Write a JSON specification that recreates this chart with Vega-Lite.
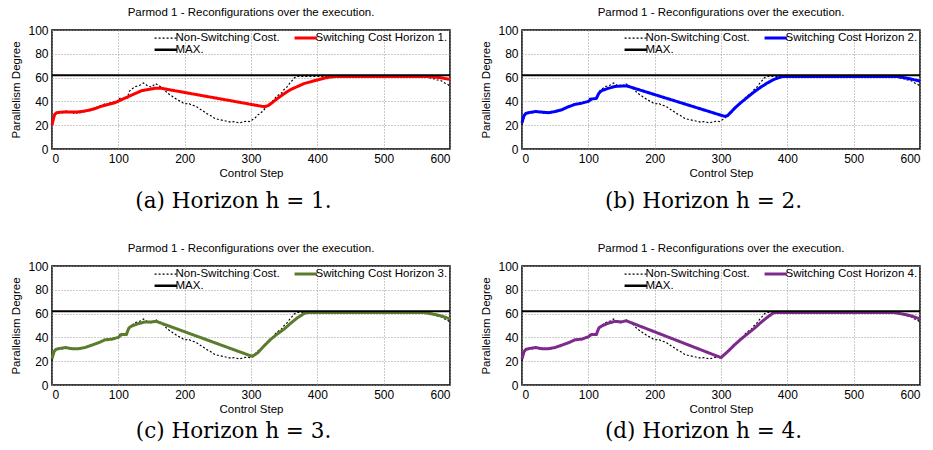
{
  "$schema": "https://vega.github.io/schema/vega-lite/v6.json",
  "background": "white",
  "padding": {"left": 10, "top": 5, "right": 3, "bottom": 3},
  "datasets": {
    "ns": [
      {"step":0,"value":20},{"step":2,"value":25},{"step":4,"value":29},{"step":6,"value":30.5},{"step":9,"value":30},{"step":12,"value":31},{"step":15,"value":30},{"step":18,"value":31},{"step":21,"value":32},{"step":24,"value":31},{"step":27,"value":30.5},{"step":30,"value":31},{"step":33,"value":30},{"step":36,"value":31},{"step":39,"value":29.5},{"step":42,"value":30.5},{"step":45,"value":30.5},{"step":48,"value":31.5},{"step":51,"value":31},{"step":54,"value":32.5},{"step":57,"value":32},{"step":60,"value":33.5},{"step":63,"value":34},{"step":66,"value":35.5},{"step":69,"value":35},{"step":72,"value":36.5},{"step":75,"value":36},{"step":78,"value":37.5},{"step":81,"value":38.5},{"step":84,"value":37.5},{"step":87,"value":39},{"step":90,"value":38.5},{"step":93,"value":39.5},{"step":96,"value":38.5},{"step":99,"value":40},{"step":102,"value":42.5},{"step":105,"value":43},{"step":108,"value":42},{"step":111,"value":42.5},{"step":114,"value":43},{"step":116,"value":48},{"step":119,"value":50},{"step":122,"value":51},{"step":126,"value":52.5},{"step":130,"value":53},{"step":134,"value":54},{"step":138,"value":55.5},{"step":141,"value":54.5},{"step":144,"value":53},{"step":147,"value":52.5},{"step":150,"value":52},{"step":153,"value":53.5},{"step":156,"value":55},{"step":159,"value":54},{"step":162,"value":53},{"step":166,"value":51.5},{"step":170,"value":49.5},{"step":174,"value":47},{"step":178,"value":45.5},{"step":182,"value":44},{"step":186,"value":42.5},{"step":190,"value":41},{"step":194,"value":40},{"step":198,"value":38.5},{"step":202,"value":38},{"step":206,"value":38.5},{"step":210,"value":37},{"step":214,"value":36.5},{"step":218,"value":35.5},{"step":222,"value":34},{"step":226,"value":32.5},{"step":230,"value":31},{"step":234,"value":29.5},{"step":238,"value":28.5},{"step":242,"value":27},{"step":246,"value":25.5},{"step":250,"value":25},{"step":254,"value":24.5},{"step":258,"value":24},{"step":262,"value":23.5},{"step":266,"value":23},{"step":270,"value":22.5},{"step":274,"value":23},{"step":278,"value":22.5},{"step":282,"value":22},{"step":286,"value":22.5},{"step":290,"value":23},{"step":294,"value":23.5},{"step":298,"value":23},{"step":302,"value":24.5},{"step":306,"value":26},{"step":310,"value":28.5},{"step":314,"value":30},{"step":318,"value":32},{"step":322,"value":34.5},{"step":326,"value":37},{"step":330,"value":39},{"step":334,"value":41},{"step":338,"value":44},{"step":342,"value":45.5},{"step":346,"value":47},{"step":350,"value":50},{"step":354,"value":52},{"step":358,"value":55},{"step":362,"value":57.5},{"step":366,"value":60},{"step":370,"value":61},{"step":420,"value":61},{"step":500,"value":61},{"step":565,"value":61},{"step":568,"value":60},{"step":572,"value":59.5},{"step":576,"value":59},{"step":580,"value":58},{"step":584,"value":58},{"step":588,"value":57},{"step":592,"value":55.5},{"step":596,"value":54.5},{"step":600,"value":53}
    ],
    "mx": [{"step":0,"value":62},{"step":600,"value":62}],
    "sw": [
      {"h":1,"step":0,"value":20},{"h":1,"step":2,"value":25},{"h":1,"step":4,"value":29},{"h":1,"step":7,"value":30.5},{"h":1,"step":15,"value":31},{"h":1,"step":25,"value":31},{"h":1,"step":35,"value":31},{"h":1,"step":45,"value":31.5},{"h":1,"step":55,"value":32.5},{"h":1,"step":65,"value":34},{"h":1,"step":75,"value":36},{"h":1,"step":85,"value":37.5},{"h":1,"step":95,"value":39},{"h":1,"step":105,"value":41.5},{"h":1,"step":115,"value":44},{"h":1,"step":125,"value":46.5},{"h":1,"step":135,"value":49},{"h":1,"step":145,"value":50},{"h":1,"step":155,"value":51},{"h":1,"step":165,"value":51},{"h":1,"step":320,"value":35.5},{"h":1,"step":326,"value":36.5},{"h":1,"step":332,"value":39},{"h":1,"step":340,"value":42.5},{"h":1,"step":350,"value":46.5},{"h":1,"step":360,"value":50},{"h":1,"step":370,"value":52.5},{"h":1,"step":380,"value":55},{"h":1,"step":390,"value":56.5},{"h":1,"step":400,"value":58},{"h":1,"step":410,"value":59.5},{"h":1,"step":420,"value":60.5},{"h":1,"step":430,"value":61},{"h":1,"step":565,"value":61},{"h":1,"step":575,"value":60.5},{"h":1,"step":585,"value":60},{"h":1,"step":595,"value":59},{"h":1,"step":600,"value":58.5},
      {"h":2,"step":0,"value":22},{"h":2,"step":3,"value":28},{"h":2,"step":6,"value":30},{"h":2,"step":10,"value":30.5},{"h":2,"step":20,"value":31.5},{"h":2,"step":30,"value":31},{"h":2,"step":40,"value":30.5},{"h":2,"step":50,"value":31.5},{"h":2,"step":60,"value":33},{"h":2,"step":70,"value":35.5},{"h":2,"step":80,"value":37.5},{"h":2,"step":90,"value":38.5},{"h":2,"step":100,"value":40},{"h":2,"step":105,"value":42},{"h":2,"step":112,"value":42.5},{"h":2,"step":116,"value":47},{"h":2,"step":120,"value":49},{"h":2,"step":130,"value":51},{"h":2,"step":140,"value":52.5},{"h":2,"step":150,"value":53},{"h":2,"step":158,"value":53},{"h":2,"step":305,"value":27.5},{"h":2,"step":310,"value":28},{"h":2,"step":315,"value":31},{"h":2,"step":320,"value":34},{"h":2,"step":330,"value":39},{"h":2,"step":340,"value":43.5},{"h":2,"step":350,"value":48},{"h":2,"step":360,"value":52},{"h":2,"step":370,"value":55.5},{"h":2,"step":380,"value":58.5},{"h":2,"step":390,"value":60.5},{"h":2,"step":395,"value":61},{"h":2,"step":565,"value":61},{"h":2,"step":575,"value":60},{"h":2,"step":585,"value":59},{"h":2,"step":600,"value":57},
      {"h":3,"step":0,"value":22},{"h":3,"step":3,"value":28},{"h":3,"step":6,"value":30},{"h":3,"step":10,"value":30.5},{"h":3,"step":20,"value":31.5},{"h":3,"step":30,"value":30.5},{"h":3,"step":40,"value":30.5},{"h":3,"step":50,"value":31.5},{"h":3,"step":60,"value":33.5},{"h":3,"step":70,"value":35.5},{"h":3,"step":80,"value":38},{"h":3,"step":90,"value":38.5},{"h":3,"step":100,"value":40},{"h":3,"step":105,"value":42.5},{"h":3,"step":112,"value":42.5},{"h":3,"step":116,"value":48},{"h":3,"step":120,"value":49.5},{"h":3,"step":130,"value":51.5},{"h":3,"step":140,"value":53},{"h":3,"step":150,"value":53},{"h":3,"step":157,"value":53.5},{"h":3,"step":302,"value":24},{"h":3,"step":310,"value":27},{"h":3,"step":320,"value":33},{"h":3,"step":330,"value":38.5},{"h":3,"step":340,"value":43},{"h":3,"step":350,"value":47},{"h":3,"step":360,"value":52},{"h":3,"step":370,"value":56.5},{"h":3,"step":380,"value":60},{"h":3,"step":386,"value":61},{"h":3,"step":560,"value":61},{"h":3,"step":570,"value":60},{"h":3,"step":580,"value":59},{"h":3,"step":590,"value":57.5},{"h":3,"step":600,"value":55.5},
      {"h":4,"step":0,"value":22},{"h":4,"step":3,"value":28},{"h":4,"step":6,"value":30},{"h":4,"step":10,"value":30.5},{"h":4,"step":20,"value":31.5},{"h":4,"step":30,"value":30.5},{"h":4,"step":40,"value":30.5},{"h":4,"step":50,"value":31.5},{"h":4,"step":60,"value":33.5},{"h":4,"step":70,"value":35.5},{"h":4,"step":80,"value":38},{"h":4,"step":90,"value":38.5},{"h":4,"step":100,"value":40.5},{"h":4,"step":105,"value":42.5},{"h":4,"step":112,"value":42.5},{"h":4,"step":116,"value":48},{"h":4,"step":120,"value":49.5},{"h":4,"step":130,"value":52},{"h":4,"step":140,"value":53.5},{"h":4,"step":150,"value":53},{"h":4,"step":157,"value":54},{"h":4,"step":300,"value":23},{"h":4,"step":310,"value":28},{"h":4,"step":320,"value":33.5},{"h":4,"step":330,"value":38.5},{"h":4,"step":340,"value":43},{"h":4,"step":350,"value":47.5},{"h":4,"step":360,"value":52.5},{"h":4,"step":370,"value":57},{"h":4,"step":380,"value":61},{"h":4,"step":560,"value":61},{"h":4,"step":570,"value":60},{"h":4,"step":580,"value":59},{"h":4,"step":590,"value":57.5},{"h":4,"step":600,"value":55.5}
    ]
  },
  "config": {
    "view": {"stroke": "black", "strokeWidth": 1.5},
    "font": "Liberation Sans",
    "title": {"font": "Liberation Sans", "fontSize": 11.5, "fontWeight": "normal", "color": "black", "anchor": "middle"},
    "axis": {
      "labelFont": "Liberation Sans", "labelFontSize": 12, "labelColor": "black",
      "titleFont": "Liberation Sans", "titleFontSize": 11.5, "titleFontWeight": "normal", "titleColor": "black",
      "domain": false, "ticks": false, "labelPadding": 4,
      "grid": true, "gridColor": "#999999", "gridDash": [1, 2], "gridWidth": 1, "gridOpacity": 1
    },
    "legend": {
      "orient": "top-right", "offset": 2, "padding": 0, "title": null, "direction": "horizontal",
      "labelFont": "Liberation Sans", "labelFontSize": 11.5, "labelColor": "black", "labelLimit": 0,
      "symbolType": "stroke", "symbolSize": 500, "columns": 2, "rowPadding": -8, "columnPadding": 8
    },
    "concat": {"spacing": 23}
  },
  "spacing": 28,
  "resolve": {"scale": {"color": "independent", "strokeDash": "independent"}, "legend": {"color": "independent", "strokeDash": "independent"}},
  "vconcat": [
    {
      "spacing": 23,
      "resolve": {"scale": {"color": "independent", "strokeDash": "independent"}, "legend": {"color": "independent", "strokeDash": "independent"}},
      "hconcat": [
        {
          "title": {"text": "(a) Horizon h = 1.", "orient": "bottom", "anchor": "middle", "frame": "bounds", "font": "DejaVu Serif", "fontSize": 21.5, "offset": 12},
          "resolve": {"scale": {"color": "independent", "strokeDash": "independent"}, "legend": {"color": "independent", "strokeDash": "independent"}},
          "vconcat": [{
            "width": 398, "height": 119,
            "title": {"text": "Parmod 1 - Reconfigurations over the execution.", "anchor": "middle", "frame": "group", "offset": 6},
            "encoding": {
              "x": {"field": "step", "type": "quantitative", "scale": {"domain": [0, 600], "nice": false}, "axis": {"values": [0,100,200,300,400,500,600], "title": "Control Step", "titlePadding": 3}},
              "y": {"field": "value", "type": "quantitative", "scale": {"domain": [0, 100], "nice": false}, "axis": {"values": [0,20,40,60,80,100], "title": "Parallelism Degree", "titlePadding": 6}}
            },
            "layer": [
              {"data": {"name": "ns"}, "mark": {"type": "line", "strokeWidth": 1.2},
               "encoding": {
                 "color": {"datum": "Non-Switching Cost.", "scale": {"domain": ["Non-Switching Cost.", "Switching Cost Horizon 1.", "MAX."], "range": ["black", "#ff0000", "black"]},
                   "legend": {"orient": "top-right", "offset": 2, "columns": 2, "direction": "horizontal", "encode": {"symbols": {"update": {"strokeWidth": {"signal": "datum.value === 'Non-Switching Cost.' ? 1.2 : (datum.value === 'MAX.' ? 2.5 : 3)"}}}}}},
                 "strokeDash": {"datum": "Non-Switching Cost.", "scale": {"domain": ["Non-Switching Cost.", "Switching Cost Horizon 1.", "MAX."], "range": [[2, 2], [1, 0], [1, 0]]}, "legend": {"orient": "top-right", "offset": 2, "columns": 2, "direction": "horizontal"}}
               }},
              {"data": {"name": "sw"}, "transform": [{"filter": "datum.h == 1"}], "mark": {"type": "line", "strokeWidth": 3},
               "encoding": {"color": {"datum": "Switching Cost Horizon 1."}, "strokeDash": {"datum": "Switching Cost Horizon 1."}}},
              {"data": {"name": "mx"}, "mark": {"type": "line", "strokeWidth": 2},
               "encoding": {"color": {"datum": "MAX."}, "strokeDash": {"datum": "MAX."}}}
            ]
          }]
        },
        {
          "title": {"text": "(b) Horizon h = 2.", "orient": "bottom", "anchor": "middle", "frame": "bounds", "font": "DejaVu Serif", "fontSize": 21.5, "offset": 12},
          "resolve": {"scale": {"color": "independent", "strokeDash": "independent"}, "legend": {"color": "independent", "strokeDash": "independent"}},
          "vconcat": [{
            "width": 398, "height": 119,
            "title": {"text": "Parmod 1 - Reconfigurations over the execution.", "anchor": "middle", "frame": "group", "offset": 6},
            "encoding": {
              "x": {"field": "step", "type": "quantitative", "scale": {"domain": [0, 600], "nice": false}, "axis": {"values": [0,100,200,300,400,500,600], "title": "Control Step", "titlePadding": 3}},
              "y": {"field": "value", "type": "quantitative", "scale": {"domain": [0, 100], "nice": false}, "axis": {"values": [0,20,40,60,80,100], "title": "Parallelism Degree", "titlePadding": 6}}
            },
            "layer": [
              {"data": {"name": "ns"}, "mark": {"type": "line", "strokeWidth": 1.2},
               "encoding": {
                 "color": {"datum": "Non-Switching Cost.", "scale": {"domain": ["Non-Switching Cost.", "Switching Cost Horizon 2.", "MAX."], "range": ["black", "#0000ff", "black"]},
                   "legend": {"orient": "top-right", "offset": 2, "columns": 2, "direction": "horizontal", "encode": {"symbols": {"update": {"strokeWidth": {"signal": "datum.value === 'Non-Switching Cost.' ? 1.2 : (datum.value === 'MAX.' ? 2.5 : 3)"}}}}}},
                 "strokeDash": {"datum": "Non-Switching Cost.", "scale": {"domain": ["Non-Switching Cost.", "Switching Cost Horizon 2.", "MAX."], "range": [[2, 2], [1, 0], [1, 0]]}, "legend": {"orient": "top-right", "offset": 2, "columns": 2, "direction": "horizontal"}}
               }},
              {"data": {"name": "sw"}, "transform": [{"filter": "datum.h == 2"}], "mark": {"type": "line", "strokeWidth": 3},
               "encoding": {"color": {"datum": "Switching Cost Horizon 2."}, "strokeDash": {"datum": "Switching Cost Horizon 2."}}},
              {"data": {"name": "mx"}, "mark": {"type": "line", "strokeWidth": 2},
               "encoding": {"color": {"datum": "MAX."}, "strokeDash": {"datum": "MAX."}}}
            ]
          }]
        }
      ]
    },
    {
      "spacing": 23,
      "resolve": {"scale": {"color": "independent", "strokeDash": "independent"}, "legend": {"color": "independent", "strokeDash": "independent"}},
      "hconcat": [
        {
          "title": {"text": "(c) Horizon h = 3.", "orient": "bottom", "anchor": "middle", "frame": "bounds", "font": "DejaVu Serif", "fontSize": 21.5, "offset": 6},
          "resolve": {"scale": {"color": "independent", "strokeDash": "independent"}, "legend": {"color": "independent", "strokeDash": "independent"}},
          "vconcat": [{
            "width": 398, "height": 119,
            "title": {"text": "Parmod 1 - Reconfigurations over the execution.", "anchor": "middle", "frame": "group", "offset": 6},
            "encoding": {
              "x": {"field": "step", "type": "quantitative", "scale": {"domain": [0, 600], "nice": false}, "axis": {"values": [0,100,200,300,400,500,600], "title": "Control Step", "titlePadding": 3}},
              "y": {"field": "value", "type": "quantitative", "scale": {"domain": [0, 100], "nice": false}, "axis": {"values": [0,20,40,60,80,100], "title": "Parallelism Degree", "titlePadding": 6}}
            },
            "layer": [
              {"data": {"name": "ns"}, "mark": {"type": "line", "strokeWidth": 1.2},
               "encoding": {
                 "color": {"datum": "Non-Switching Cost.", "scale": {"domain": ["Non-Switching Cost.", "Switching Cost Horizon 3.", "MAX."], "range": ["black", "#5b7c2d", "black"]},
                   "legend": {"orient": "top-right", "offset": 2, "columns": 2, "direction": "horizontal", "encode": {"symbols": {"update": {"strokeWidth": {"signal": "datum.value === 'Non-Switching Cost.' ? 1.2 : (datum.value === 'MAX.' ? 2.5 : 3)"}}}}}},
                 "strokeDash": {"datum": "Non-Switching Cost.", "scale": {"domain": ["Non-Switching Cost.", "Switching Cost Horizon 3.", "MAX."], "range": [[2, 2], [1, 0], [1, 0]]}, "legend": {"orient": "top-right", "offset": 2, "columns": 2, "direction": "horizontal"}}
               }},
              {"data": {"name": "sw"}, "transform": [{"filter": "datum.h == 3"}], "mark": {"type": "line", "strokeWidth": 3},
               "encoding": {"color": {"datum": "Switching Cost Horizon 3."}, "strokeDash": {"datum": "Switching Cost Horizon 3."}}},
              {"data": {"name": "mx"}, "mark": {"type": "line", "strokeWidth": 2},
               "encoding": {"color": {"datum": "MAX."}, "strokeDash": {"datum": "MAX."}}}
            ]
          }]
        },
        {
          "title": {"text": "(d) Horizon h = 4.", "orient": "bottom", "anchor": "middle", "frame": "bounds", "font": "DejaVu Serif", "fontSize": 21.5, "offset": 6},
          "resolve": {"scale": {"color": "independent", "strokeDash": "independent"}, "legend": {"color": "independent", "strokeDash": "independent"}},
          "vconcat": [{
            "width": 398, "height": 119,
            "title": {"text": "Parmod 1 - Reconfigurations over the execution.", "anchor": "middle", "frame": "group", "offset": 6},
            "encoding": {
              "x": {"field": "step", "type": "quantitative", "scale": {"domain": [0, 600], "nice": false}, "axis": {"values": [0,100,200,300,400,500,600], "title": "Control Step", "titlePadding": 3}},
              "y": {"field": "value", "type": "quantitative", "scale": {"domain": [0, 100], "nice": false}, "axis": {"values": [0,20,40,60,80,100], "title": "Parallelism Degree", "titlePadding": 6}}
            },
            "layer": [
              {"data": {"name": "ns"}, "mark": {"type": "line", "strokeWidth": 1.2},
               "encoding": {
                 "color": {"datum": "Non-Switching Cost.", "scale": {"domain": ["Non-Switching Cost.", "Switching Cost Horizon 4.", "MAX."], "range": ["black", "#7d2a8c", "black"]},
                   "legend": {"orient": "top-right", "offset": 2, "columns": 2, "direction": "horizontal", "encode": {"symbols": {"update": {"strokeWidth": {"signal": "datum.value === 'Non-Switching Cost.' ? 1.2 : (datum.value === 'MAX.' ? 2.5 : 3)"}}}}}},
                 "strokeDash": {"datum": "Non-Switching Cost.", "scale": {"domain": ["Non-Switching Cost.", "Switching Cost Horizon 4.", "MAX."], "range": [[2, 2], [1, 0], [1, 0]]}, "legend": {"orient": "top-right", "offset": 2, "columns": 2, "direction": "horizontal"}}
               }},
              {"data": {"name": "sw"}, "transform": [{"filter": "datum.h == 4"}], "mark": {"type": "line", "strokeWidth": 3},
               "encoding": {"color": {"datum": "Switching Cost Horizon 4."}, "strokeDash": {"datum": "Switching Cost Horizon 4."}}},
              {"data": {"name": "mx"}, "mark": {"type": "line", "strokeWidth": 2},
               "encoding": {"color": {"datum": "MAX."}, "strokeDash": {"datum": "MAX."}}}
            ]
          }]
        }
      ]
    }
  ]
}
